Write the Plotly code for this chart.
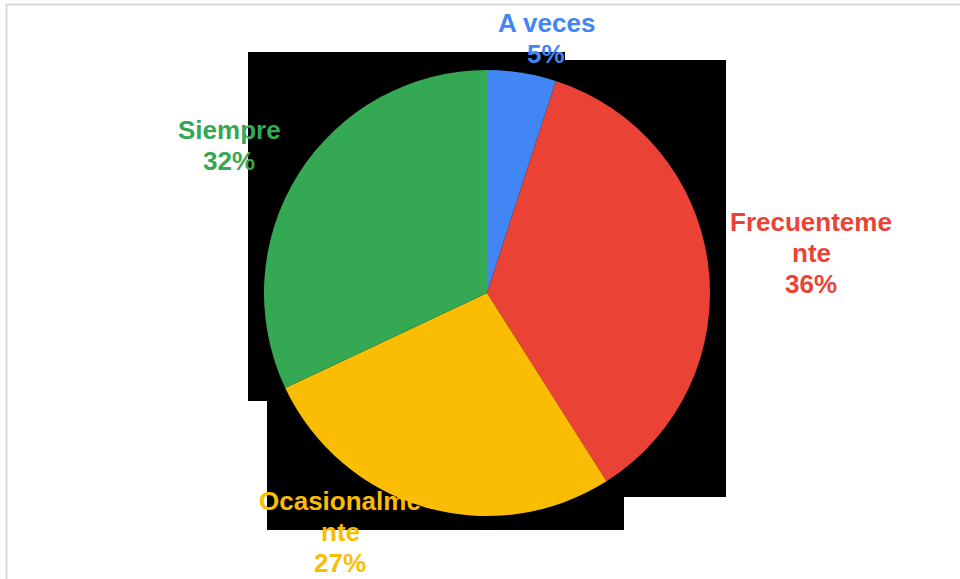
import plotly.graph_objects as go

# Survey answer shares (percent)
categories = ["A veces", "Frecuentemente", "Ocasionalmente", "Siempre"]
values = [5, 36, 27, 32]
colors = ["#4285F4", "#EA4335", "#FBBC04", "#34A853"]

W, H = 960, 579


def px_x(x):
    return x / W


def px_y(y):
    return 1 - y / H


def wrap(text, width=11):
    return [text[i:i + width] for i in range(0, len(text), width)]


# Pie geometry (pixels)
cx, cy, r = 487, 293, 223

fig = go.Figure(
    go.Pie(
        labels=categories,
        values=values,
        sort=False,
        direction="clockwise",
        rotation=0,
        marker=dict(colors=colors, line=dict(width=0)),
        textinfo="none",
        hoverinfo="label+percent",
        showlegend=False,
        domain=dict(x=[px_x(cx - r), px_x(cx + r)], y=[px_y(cy + r), px_y(cy - r)]),
    )
)

# Dark backdrop blocks behind the pie
blocks = [
    (248, 52, 565, 401),
    (503, 53, 565, 60),
    (565, 60, 726, 497),
    (267, 300, 624, 530),
]
shapes = []
for x0, y0, x1, y1 in blocks:
    shapes.append(dict(type="rect", xref="paper", yref="paper", layer="below",
                       x0=px_x(x0), x1=px_x(x1), y0=px_y(y1), y1=px_y(y0),
                       fillcolor="#000000", line=dict(width=0)))

# Light frame around the chart area
shapes.append(dict(type="rect", xref="paper", yref="paper", layer="above",
                   x0=px_x(6.5), x1=px_x(975), y0=px_y(590), y1=px_y(4.5),
                   fillcolor="rgba(0,0,0,0)", line=dict(color="#d9d9d9", width=2)))

# Outside labels: category name (wrapped) and percentage, one line per annotation
label_pos = {
    "A veces": (546, 23),
    "Frecuentemente": (811, 222),
    "Ocasionalmente": (340, 501),
    "Siempre": (229, 130),
}
line_gap = 31
annotations = []
for cat, val, col in zip(categories, values, colors):
    lx, ly = label_pos[cat]
    lines = wrap(cat) + [f"{val}%"]
    for i, txt in enumerate(lines):
        annotations.append(dict(
            x=px_x(lx), y=px_y(ly + i * line_gap), xref="paper", yref="paper",
            text=txt, showarrow=False, xanchor="center", yanchor="middle",
            font=dict(family="Liberation Sans, Arial, sans-serif", size=26,
                      color=col, weight="bold"),
        ))

fig.update_layout(
    width=W, height=H,
    margin=dict(l=0, r=0, t=0, b=0),
    paper_bgcolor="#ffffff",
    plot_bgcolor="#ffffff",
    shapes=shapes,
    annotations=annotations,
)

fig.write_html("out.html")
